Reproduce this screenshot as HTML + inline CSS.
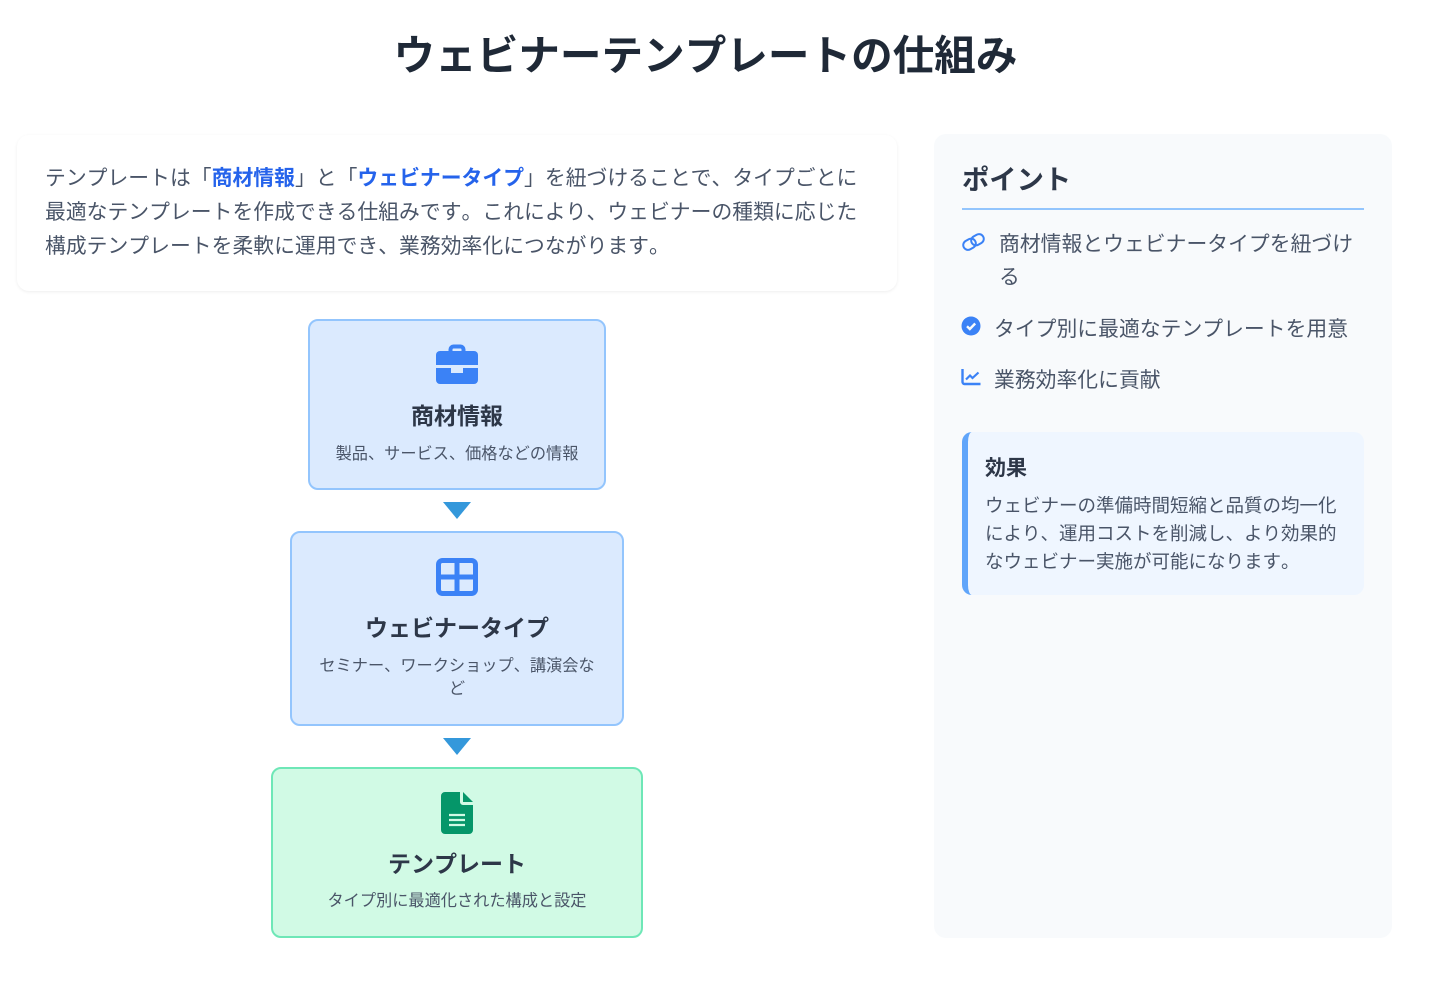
<!DOCTYPE html>
<html lang="ja"><head><meta charset="utf-8"><title>ウェビナーテンプレートの仕組み</title>
<style>
html,body{margin:0;padding:0;background:#fff}
body{width:1434px;height:982px;position:relative;overflow:hidden;font-family:"Liberation Sans","Noto Sans CJK JP",sans-serif;color:#4a5568;text-spacing-trim:space-all;font-kerning:none;font-feature-settings:"kern" 0,"palt" 0,"chws" 0}
#w{position:absolute;left:0;top:0;width:1434px;height:982px;filter:blur(.35px)}
.a{position:absolute;white-space:nowrap}
.box{position:absolute;box-sizing:border-box;border-radius:10px;border:2px solid #93c5fd;background:#dbeafe}
.g{border-color:#6ee7b7;background:#d1fae5}
.t{font-size:23px;font-weight:700;color:#2d3748;text-align:center;left:0;line-height:32px}
.s{font-size:16.2px;color:#4a5568;text-align:center;left:0;line-height:23px}
.l{font-size:20.8px;line-height:34px;color:#4a5568;letter-spacing:.03px}
.l b{color:#2563eb}
.e{font-size:18.5px;line-height:28px;left:985px;color:#4a5568}
</style></head><body><div id="w">
<div class="a" style="left:0;width:1411px;top:26px;text-align:center;font-size:41.6px;font-weight:700;line-height:60px;color:#1f2937">ウェビナーテンプレートの仕組み</div>

<div class="a" style="left:17px;top:135px;width:880px;height:156px;border-radius:12px;background:#fff;box-shadow:0 1px 3px rgba(0,0,0,.07)"></div>
<div class="a l" style="left:45px;top:162px">テンプレートは「<b>商材情報</b>」と「<b>ウェビナータイプ</b>」を紐づけることで、タイプごとに</div>
<div class="a l" style="left:45px;top:196px">最適なテンプレートを作成できる仕組みです。これにより、ウェビナーの種類に応じた</div>
<div class="a l" style="left:45px;top:230px">構成テンプレートを柔軟に運用でき、業務効率化につながります。</div>

<div class="box" style="left:308px;top:319px;width:298px;height:171px"></div>
<svg class="a" style="left:436px;top:344px" width="42" height="40" viewBox="0 0 42 40"><path d="M14.500 8V5.500a3 3 0 0 1 3-3h7a3 3 0 0 1 3 3V8" fill="none" stroke="#3b82f6" stroke-width="4"/><path d="M4 7h34a4 4 0 0 1 4 4v10H0V11a4 4 0 0 1 4-4z" fill="#3b82f6"/><path d="M0 24h15v5h12v-5h15v12a4 4 0 0 1-4 4H4a4 4 0 0 1-4-4z" fill="#3b82f6"/></svg>
<div class="a t" style="top:400px;width:914px">商材情報</div>
<div class="a s" style="top:443px;width:914px">製品、サービス、価格などの情報</div>

<svg class="a" style="left:443px;top:502px" width="28" height="17"><path d="M0 0h28L14 17z" fill="#3498db"/></svg>

<div class="box" style="left:290px;top:531px;width:334px;height:195px"></div>
<svg class="a" style="left:436px;top:558px" width="42" height="38" viewBox="0 0 42 38"><rect x="2.500" y="2.500" width="37" height="33" rx="4" fill="none" stroke="#3b82f6" stroke-width="5"/><path d="M21 2v34M2 19h38" stroke="#3b82f6" stroke-width="5"/></svg>
<div class="a t" style="top:612px;width:914px">ウェビナータイプ</div>
<div class="a s" style="top:655px;width:914px">セミナー、ワークショップ、講演会な</div>
<div class="a s" style="top:678px;width:914px">ど</div>

<svg class="a" style="left:443px;top:738px" width="28" height="17"><path d="M0 0h28L14 17z" fill="#3498db"/></svg>

<div class="box g" style="left:271px;top:767px;width:372px;height:171px"></div>
<svg class="a" style="left:441px;top:792px" width="32" height="42" viewBox="0 0 32 42"><path d="M4 0h15v10a3 3 0 0 0 3 3h10v25a4 4 0 0 1-4 4H4a4 4 0 0 1-4-4V4a4 4 0 0 1 4-4z" fill="#059669"/><path d="M22 0l10 10H22z" fill="#059669"/><path d="M8 23h16M8 28h16M8 33h16" stroke="#d1fae5" stroke-width="2.200"/></svg>
<div class="a t" style="top:848px;width:914px">テンプレート</div>
<div class="a s" style="top:890px;width:914px">タイプ別に最適化された構成と設定</div>

<div class="a" style="left:934px;top:134px;width:458px;height:804px;border-radius:12px;background:#f8fafc"></div>
<div class="a" style="left:962px;top:160px;font-size:27.300px;font-weight:700;line-height:40px;color:#2d3748">ポイント</div>
<div class="a" style="left:962px;top:208px;width:402px;height:2px;background:#93c5fd"></div>

<svg class="a" style="left:962px;top:233px" width="23" height="18" viewBox="0 0 23 18" fill="none" stroke="#3b82f6" stroke-width="2"><rect x="1" y="6.500" width="13" height="9.500" rx="4.700" transform="rotate(-30 7.500 11.200)"/><rect x="9" y="2" width="13" height="9.500" rx="4.700" transform="rotate(-30 15.500 6.800)"/></svg>
<div class="a l" style="left:999px;top:228px">商材情報とウェビナータイプを紐づけ</div>
<div class="a l" style="left:999px;top:261px">る</div>

<svg class="a" style="left:961px;top:316px" width="20" height="20" viewBox="0 0 20 20"><circle cx="10" cy="10" r="9.500" fill="#3b82f6"/><path d="M6 10.300l2.800 2.700L14.200 7.500" fill="none" stroke="#f8fafc" stroke-width="2.400"/></svg>
<div class="a l" style="left:994px;top:313px">タイプ別に最適なテンプレートを用意</div>

<svg class="a" style="left:961px;top:368px" width="20" height="18" viewBox="0 0 20 18" fill="none" stroke="#3b82f6" stroke-width="2.400"><path d="M1.500 1v13a2 2 0 0 0 2 2H19.500"/><path d="M5 11.500l4-4 2.500 2.500 6-5.500" stroke-width="2.200"/></svg>
<div class="a l" style="left:994px;top:364px">業務効率化に貢献</div>

<div class="a" style="left:962px;top:432px;width:402px;height:163px;box-sizing:border-box;border-left:6px solid #60a5fa;border-radius:10px;background:#eff6ff"></div>
<div class="a" style="left:985px;top:454px;font-size:21px;font-weight:700;line-height:30px;color:#2d3748">効果</div>
<div class="a e" style="top:492px">ウェビナーの準備時間短縮と品質の均一化</div>
<div class="a e" style="top:520px">により、運用コストを削減し、より効果的</div>
<div class="a e" style="top:548px">なウェビナー実施が可能になります。</div>
</div></body></html>
